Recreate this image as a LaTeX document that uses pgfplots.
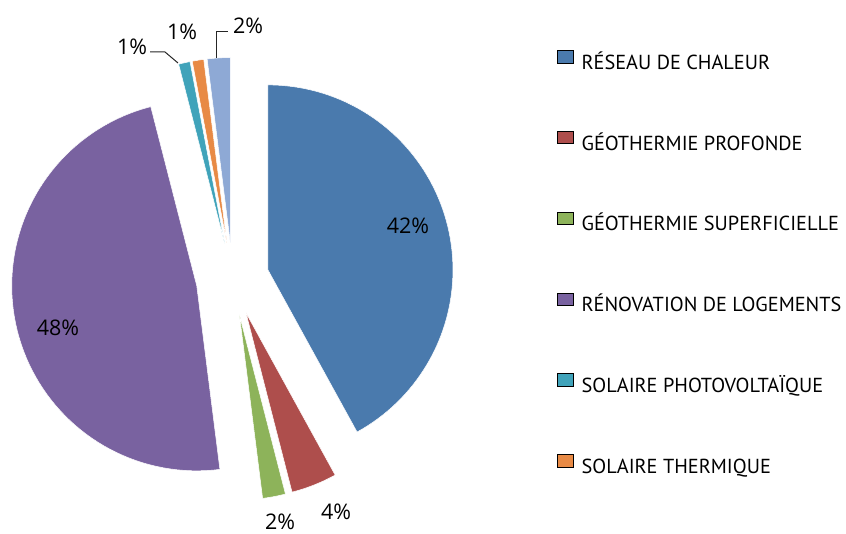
\documentclass[border=0pt]{standalone}
\usepackage{pgfplots}
\pgfplotsset{compat=1.18}
\usepackage{fontspec}
\newfontfamily\legfont{PT Sans}
\newfontfamily\labfont{Open Sans}
\definecolor{cA}{HTML}{4A7AAD}
\definecolor{cB}{HTML}{AE4E4C}
\definecolor{cC}{HTML}{8DB35A}
\definecolor{cD}{HTML}{7962A0}
\definecolor{cE}{HTML}{40A3BA}
\definecolor{cF}{HTML}{E88A45}
\definecolor{cG}{HTML}{8EA9D5}
\def\cx{232.6}
\def\cy{255}
\def\ex{36.5}
\def\R{185}
% #1 colour, #2 cumulative share before, #3 share (percent)
\newcommand{\slice}[3]{%
  \pgfmathsetmacro{\aS}{90-3.6*(#2+#3)}%
  \pgfmathsetmacro{\aE}{90-3.6*(#2)}%
  \pgfmathsetmacro{\aM}{90-3.6*(#2+#3/2)}%
  \pgfmathsetmacro{\vx}{\cx+\ex*cos(\aM)}%
  \pgfmathsetmacro{\vy}{\cy+\ex*sin(\aM)}%
  \edef\doslice{\noexpand\addplot[forget plot, fill=#1, draw=white, line width=0.5pt, domain=\aS:\aE, samples=80, variable=\noexpand\t]
    ({\vx+\R*cos(\noexpand\t)},{\vy+\R*sin(\noexpand\t)}) -- (axis cs:\vx,\vy) -- cycle;}%
  \doslice
}
\begin{document}
\begin{tikzpicture}
\begin{axis}[
  at={(0,0)}, anchor=south west,
  width=846pt, height=534pt, scale only axis,
  xmin=0, xmax=846, ymin=0, ymax=534,
  hide axis, clip=false,
  legend image code/.code={\fill[#1] (0pt,0pt) rectangle (16pt,12.5pt);},
  legend style={at={(axis cs:557,484)}, anchor=north west, draw=none, fill=none,
    inner sep=0pt, row sep=61.6pt,
    font=\legfont\fontsize{20.3pt}{23pt}\selectfont,
    nodes={inner sep=0pt, text height=13pt, text depth=0pt},
    /tikz/every odd column/.append style={column sep=8pt}},
  legend cell align=left,
]
\slice{cA}{0}{42}
\slice{cB}{42}{4}
\slice{cC}{46}{2}
\slice{cD}{48}{48}
\slice{cE}{96}{1}
\slice{cF}{97}{1}
\slice{cG}{98}{2}
% leader lines
\addplot[forget plot, black!85, line width=1pt] coordinates {(150,482) (165,482) (178,471)};
\addplot[forget plot, black!85, line width=1pt] coordinates {(216,476) (216,502) (228,502)};
% labels
\begin{scope}[every node/.style={font=\labfont\fontsize{21.5pt}{24pt}\selectfont, inner sep=0pt, text=black}]
\node at (axis cs:408,308) {42\%};
\node at (axis cs:58,206) {48\%};
\node at (axis cs:336,22) {4\%};
\node at (axis cs:280,12) {2\%};
\node at (axis cs:132,487) {1\%};
\node at (axis cs:182,502) {1\%};
\node at (axis cs:248,508) {2\%};
\end{scope}
\addlegendimage{fill=cA}\addlegendentry{RÉSEAU DE CHALEUR}
\addlegendimage{fill=cB}\addlegendentry{GÉOTHERMIE PROFONDE}
\addlegendimage{fill=cC}\addlegendentry{GÉOTHERMIE SUPERFICIELLE}
\addlegendimage{fill=cD}\addlegendentry{RÉNOVATION DE LOGEMENTS}
\addlegendimage{fill=cE}\addlegendentry{SOLAIRE PHOTOVOLTAÏQUE}
\addlegendimage{fill=cF}\addlegendentry{SOLAIRE THERMIQUE}
\end{axis}
\pgfresetboundingbox
\useasboundingbox (0,0) rectangle (846pt,534pt);
\end{tikzpicture}
\end{document}
